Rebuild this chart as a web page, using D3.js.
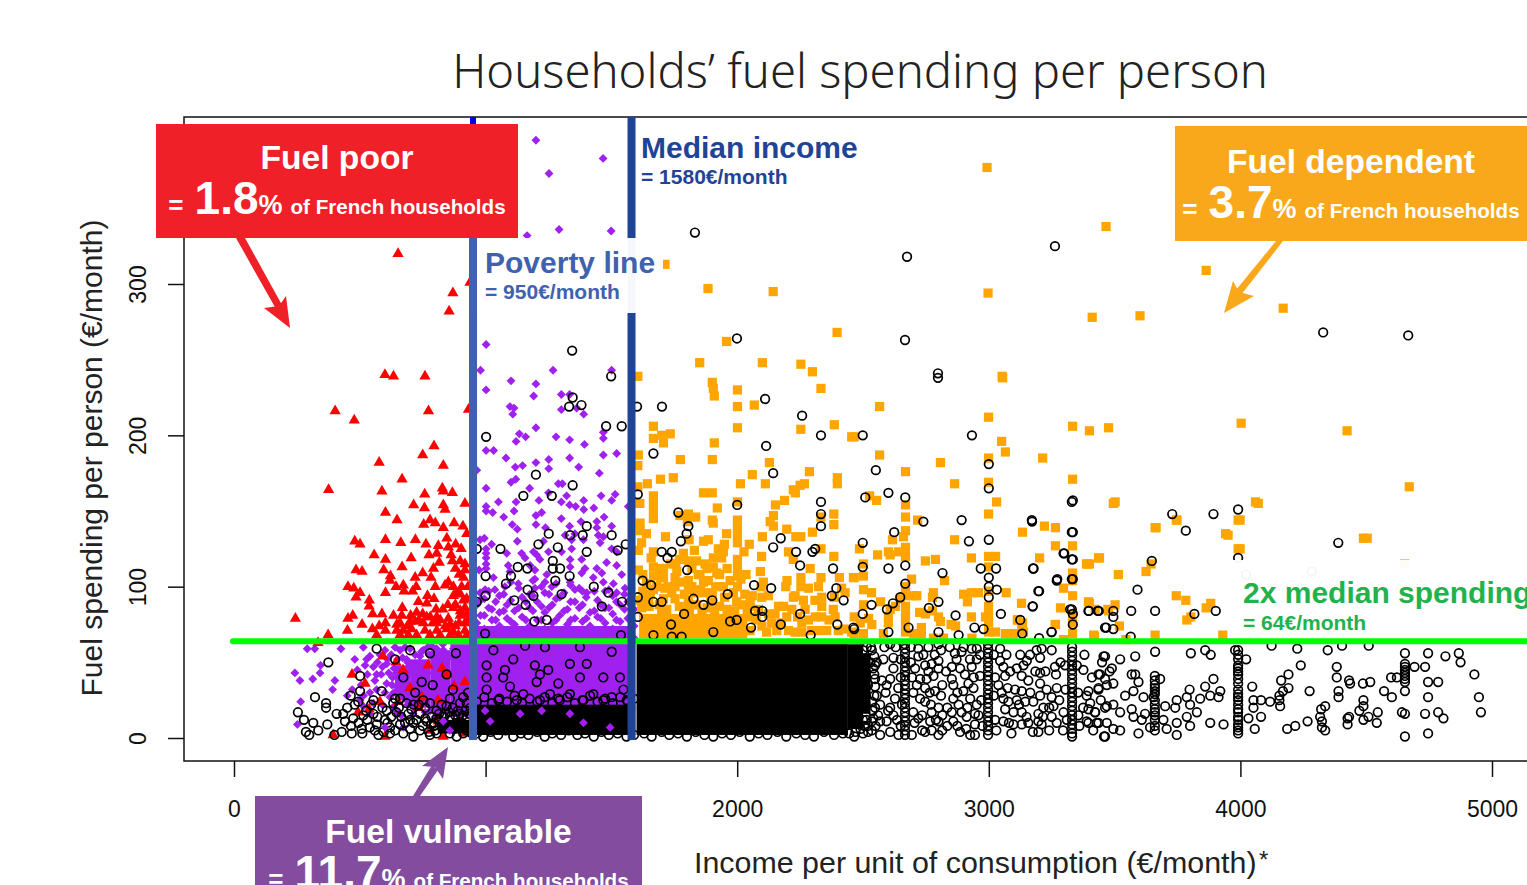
<!DOCTYPE html>
<html>
<head>
<meta charset="utf-8">
<script src="https://cdn.jsdelivr.net/npm/d3@7"></script>
<style>
    body { margin: 0; background: #fff; }
    svg { display: block; overflow: hidden; }
    text { font-family: "Liberation Sans", sans-serif; }
</style>
</head>
<body>
<div id="chart"></div>
<script>
// Axis ticks
const incomeTicks = [0, 1000, 2000, 3000, 4000, 5000];
const spendingTicks = [0, 100, 200, 300];

// Reference lines
const povertyLine = 950;
const medianIncome = 1580;
const twiceMedianSpending = 64;

// Fuel poor households [income, spending]
const poorPoints = [
    [652,320],[870,294],[855,282],[938,301],[600,240],[634,239],[759,239],[402,216],[478,210],[773,216],[932,217],[795,193],
    [750,187],[577,182],[832,180],[668,171],[376,164],[588,163],[828,165],[832,163],[868,162],[758,161],[714,154],[757,152],
    [832,154],[839,151],[918,155],[602,149],[648,144],[754,141],[779,144],[800,142],[832,139],[875,142],[910,140],[925,135],
    [846,132],[480,130],[501,128],[602,131],[663,129],[721,131],[763,128],[812,127],[852,126],[881,128],[903,125],[557,121],
    [602,118],[704,119],[775,121],[806,122],[863,121],[868,117],[816,116],[899,117],[918,115],[485,111],[509,110],[595,111],
    [668,113],[750,109],[793,112],[918,111],[622,107],[620,104],[720,106],[783,106],[912,106],[453,100],[476,99],[501,96],
    [485,93],[602,96],[644,100],[673,101],[676,97],[710,97],[724,100],[800,100],[839,101],[852,103],[872,100],[905,100],
    [872,94],[769,94],[795,92],[538,91],[733,90],[912,91],[537,87],[766,89],[669,86],[803,85],[872,86],[918,86],
    [551,82],[588,82],[472,81],[453,79],[244,79],[634,81],[667,81],[702,81],[726,83],[766,80],[806,80],[852,79],
    [899,81],[925,82],[509,75],[602,76],[577,74],[647,75],[700,77],[753,76],[806,76],[859,75],[918,76],[451,71],
    [550,72],[602,71],[647,71],[673,71],[706,72],[759,71],[806,71],[846,72],[872,70],[918,71],[374,68],[567,68],
    [660,68],[693,68],[726,68],[779,68],[819,68],[859,68],[892,68],[925,68],[880,112],[895,108],[930,100],[885,96],
    [900,95],[925,92],[850,88],[880,88],[900,84],[930,78],[840,74],[880,74],[895,76],[830,85],[820,78],[790,76],
    [780,80],[750,82],[735,78],[690,74],[720,77],[660,76],[592,54],[469,42],[521,36],[672,45],[771,48],[827,46],
    [847,42],[875,34],[918,37],[700,33],[580,24],[652,24],[537,19],[493,17],[735,20],[811,25],[811,11],[831,1],
    [918,3],[394,2],[600,1],[779,5],[747,27],[644,50],[334,63]
];

// Fuel vulnerable households [income, spending]
const vulnerablePoints = [
    [1200,395],[1467,383],[1252,373],[1292,336],[1499,335],[1165,332],[1002,291],[1002,260],[980,243],[1002,230],[1101,236],[1200,234],
    [1268,243],[1501,243],[1191,226],[1301,227],[1334,227],[1097,219],[1113,218],[1108,214],[1301,217],[1362,218],[1390,214],[1200,205],
    [1134,201],[1159,199],[1121,196],[1280,199],[1334,197],[1393,194],[1468,202],[1468,198],[1002,190],[1032,190],[1081,185],[1468,187],
    [1521,188],[1334,185],[1200,182],[1251,184],[1251,178],[1118,179],[1147,180],[1370,179],[965,177],[1452,175],[1101,169],[1120,171],
    [1289,168],[1305,168],[1002,165],[1175,165],[1250,162],[1322,160],[1459,160],[1515,161],[1051,156],[1121,156],[1212,157],[1301,156],
    [1390,157],[1501,157],[1002,153],[1002,150],[1028,149],[1113,150],[1334,154],[1358,153],[1390,151],[1430,152],[1567,153],[1072,146],
    [1200,147],[1223,149],[1301,145],[1471,146],[1106,141],[1200,141],[1238,139],[1334,140],[1379,143],[1442,143],[1501,140],[1126,138],
    [1442,139],[1448,134],[1468,133],[1316,134],[1355,135],[995,132],[978,131],[1126,130],[1024,128],[1230,130],[1342,131],[1389,131],
    [1455,129],[1002,125],[1002,122],[1002,119],[1002,115],[1002,112],[1084,122],[1143,122],[1190,123],[1203,121],[1250,123],[1302,123],
    [1342,125],[1501,125],[1521,123],[1157,119],[1216,118],[1336,118],[1382,118],[1481,116],[1177,114],[1090,114],[1336,113],[1395,112],
    [1442,112],[1521,114],[974,111],[1196,111],[1243,108],[1097,110],[1462,109],[1541,108],[1382,109],[1031,106],[1196,105],[1236,103],
    [1336,103],[1468,103],[1428,106],[1508,102],[1130,102],[1077,100],[1037,98],[978,96],[998,98],[1196,99],[1263,100],[1355,98],
    [1402,96],[1554,99],[1521,96],[1475,97],
    [291,59],[321,59],[425,59],[514,60],[242,43],[262,38],[313,39],[344,48],[342,43],[401,38],[392,32],[265,24],
    [252,9],[527,52],[521,48],[554,47],[540,54],[567,42],[607,49],[646,43],[686,52],[713,47],[739,54],[792,54],
    [832,58],[858,54],[911,56],[607,36],[567,32],[646,34],[686,34],[726,38],[766,36],[805,38],[845,36],[898,43],
    [911,32],[845,27],[779,29],[726,27],[686,25],[620,27],[554,23],[540,16],[646,18],[911,16],[779,18],[832,21],
    [713,16],[673,7],[746,23],[885,25],[514,21],[501,25],[766,47],[805,47],[885,52],[845,45],[911,49],[700,43],
    [752,43],[792,43],[660,58],[700,59],[752,58],[805,59],[872,59],
    [490,45],[505,35],[530,42],[560,38],[585,42],[600,30],[625,55],[580,55],[540,30],[515,28],[470,32],[450,28],
    [480,52],[600,58],[640,60],[680,60],[610,52],[650,52],[590,22],[630,20],[665,15],
    [635,30],[630,40],[628,35],[636,46],[690,50],[695,47],[670,53],[690,22],[720,55],[775,55],[770,60],[745,57],
    [720,20],[760,17],[800,14],[830,62],[785,61],[570,50],[590,47],[615,43]
];

// Purple columns above the green line [income, spendings]
const vulnerableColumns = [
    [965,[70,76,88]],[995,[67,72,81,92]],[1025,[69,78,85]],[1055,[66,74,83,94]],[1085,[70,79,88]],[1115,[67,75,84]],
    [1145,[71,80,93]],[1175,[66,74,86,95]],[1205,[69,78,90]],[1235,[72,83,96]],[1265,[67,76,88]],[1295,[70,81,93]],
    [1325,[66,75,85]],[1355,[71,79,90]],[1385,[68,77,88,97]],[1415,[66,74,83]],[1445,[70,80,91]],[1475,[67,76,86]],
    [1505,[72,82,94]],[1535,[68,77,88]],[1565,[70,79,90]],[1590,[66,74,85]],
    [980,[81,91]],[1012,[86,97]],[1040,[78,90]],[1072,[84,95]],[1100,[77,91,103]],[1132,[86,99]],[1160,[78,90]],
    [1188,[84,94,104]],[1222,[78,87,100]],[1252,[86,95]],[1280,[78,92,102]],[1312,[84,96]],[1338,[78,90,101]],[1372,[86,99]],
    [1400,[79,93]],[1432,[84,97]],[1458,[79,88]],[1490,[86,98]],[1520,[78,90]],[1552,[85,95]],[1580,[78,94]]
];

// Purple diamonds that sit on top of the black mass
const vulnerableOnTop = [
    [998,18],[1389,10],[1495,7],[1018,11],[1335,16],[1137,16],[1223,18],[600,7],[832,11],[858,5]
];

// Fuel dependent households [income, spending]
const dependentPoints = [
    [2993,377],[3466,338],[3864,309],[4170,284],[3411,278],[3601,279],[2997,294],[3053,239],[4003,208],[4424,203],[4671,166],[4071,155],
    [3502,156],[4504,132],[3999,144],[3951,134],[3665,139],[3748,144],[3999,125],[1713,313],[1884,297],[2143,295],
    [1958,262],[1851,248],[2100,248],[2253,247],[2299,242],[2397,268],[1605,239],[1901,235],[1905,231],[1909,226],[2001,230],[2333,231],
    [2001,219],[2068,220],[2386,207],[2253,204],[2455,199],[1667,206],[1667,198],[1707,195],[1700,200],[1734,201],[2001,205],[1909,195],
    [1607,187],[1774,184],[1901,184],[2128,182],[1605,180],[1746,172],[1695,171],[1643,168],[2060,174],[2287,176],[2112,168],[2013,168],
    [2398,172],[2398,168],[2267,168],[2250,167],[2223,164],[2231,162],[1605,166],[1866,162],[1901,162],[1667,160],[1667,155],[1667,150],
    [1667,145],[1613,155],[2188,157],[2152,154],[2001,156],[1921,152],[2144,147],[2144,140],[2131,143],[2384,148],[2333,146],[1772,147],
    [1806,148],[1835,146],[1802,143],[1901,144],[1905,142],[2001,144],[2001,139],[2001,134],[2001,129],[1614,142],[1614,137],[1639,135],
    [1715,133],[1958,135],[2100,133],[2197,138],[2233,133],[2253,133],[2299,136],[2384,141],[1809,131],[1866,130],[1885,131],[2048,128],
    [1620,129],[1949,128],[1925,125],[1945,123],[1830,124],[2027,123],[2204,123],[2333,125],[2097,120],[2223,118],[2384,120],[1786,122],
    [1667,123],[1607,124],[1658,119],[1905,119],[1938,119],[1806,117],[1839,117],[1872,115],[1756,115],[1667,113],[1707,112],[1607,111],
    [1905,113],[2001,118],[2001,112],[2001,107],[2001,100],[2290,112],[2092,110],[1919,109],[1852,108],[2462,106],[2406,106],[2104,103],
    [2198,104],[2253,106],[2333,106],[1667,107],[1707,106],[1753,106],[1806,104],[1866,103],[1972,104],[1945,100],[2095,100],[2193,100],
    [2253,100],[2323,100],[2283,99],[1667,98],[1713,99],[1753,100],[1806,98],[1866,96],[1901,96],[1832,96],[2415,99],[2230,94],
    [2060,94],[2124,94],[2336,93],[2386,93],[1614,91],[1647,91],[1707,92],[1753,92],[1806,90],[1998,90],[2051,90],[2263,91],
    [2309,91],[2429,96],[1620,86],[1690,88],[1720,85],[1770,87],[1790,84],[1840,88],[1880,86],[1930,87],[1960,85],[2020,88],
    [2051,80],[2051,87],[2098,74],[2137,76],[2184,87],[2197,80],[2223,93],[2257,76],[2283,78],[2336,80],[2336,87],[2389,80],
    [2382,85],[2323,71],[2204,71],[2157,71],[2257,70],[2402,71],[2455,70],[2164,87],[2124,82],[2098,93],[2051,71],[2117,70],
    [2230,70],[2296,71],[2356,71],[2217,85],[2270,85],[2075,78],[2085,85],[2150,82],[2175,76],[2240,80],[2310,80],[2365,78],[2425,72],
    [1625,97],[1640,102],[1655,95],[1680,100],[1695,106],[1725,100],[1740,96],[1760,110],[1780,103],[1790,95],[1820,100],[1845,108],
    [1855,98],[1885,104],[1895,90],[1915,100],[1930,108],[1950,93],[1985,96],[2015,105],[2030,95],[1625,108],[1690,112],[1735,115],
    [1770,118],[1820,112],[1880,112],[1960,112],[2035,108],[2040,85],[1650,87],[1700,85],[1810,85],[1860,83],[1910,84],[1990,84],
    [3055,238],[2566,219],[2999,212],[3333,206],[3400,203],[3476,205],[2465,199],[3051,196],[3066,189],[2566,187],[2999,185],[3214,185],
    [2808,182],[2669,176],[3333,171],[2864,168],[2999,169],[2526,160],[2554,157],[3031,156],[2669,154],[2669,146],[2999,148],[2717,144],
    [3221,140],[3265,139],[3134,136],[2669,137],[2661,133],[2864,131],[2617,131],[2486,125],[3265,127],[3333,127],[2601,123],[2608,121],
    [2641,123],[2669,126],[2669,120],[2558,121],[2999,120],[3027,120],[2931,119],[2748,117],[2788,118],[3202,119],[3440,119],[3388,115],
    [3400,115],[2502,115],[2999,113],[3333,109],[3333,104],[2465,106],[2502,107],[2693,105],[2824,104],[3297,99],[2502,98],[2534,96],
    [2669,100],[2669,94],[2701,94],[2714,94],[2648,92],[2780,96],[2776,93],[2900,95],[2931,96],[2959,96],[2915,90],[3069,96],
    [2999,97],[3333,94],[2502,88],[2570,90],[2629,87],[2608,85],[3130,89],[3285,86],[3400,89],[2669,87],[2999,87],[2725,83],
    [2748,82],[2776,84],[2800,80],[2808,77],[2931,80],[2987,80],[2999,81],[3114,78],[3134,76],[3134,71],[3265,75],[3333,82],
    [3333,76],[3423,85],[3476,84],[2465,80],[2522,79],[2489,76],[2535,75],[2601,80],[2601,76],[2669,81],[2669,76],[2850,75],
    [2868,74],[2999,76],[2732,73],[2581,69],[2465,69],[2502,69],[2669,70],[2701,69],[2732,69],[2999,70],[3027,70],[3066,69],
    [3098,69],[3333,69],[3420,67],[2780,66],[2820,66],[2933,66],[3297,65],
    [3495,155],[3661,139],[3745,144],[3991,144],[4060,156],[3941,135],[3991,125],[4489,132],[4653,115],[3745,94],[3783,91],[3882,89],
    [3864,86],[3803,80],[3787,78],[3661,68],[3930,68],[3519,74],[3545,65],[3417,68],[3502,88],[3473,85],[3396,90],[3436,119],
    [3515,108],[3392,115],[3625,110],[3645,115],[3264,75],[3131,75],[3114,78],[3138,70],[3098,69]
];

// Other households, read one by one [income, spending]
const otherPoints = [
    [1832,334],[2675,318],[3263,325],[4329,268],[4667,266],[2667,263],[1999,264],[1344,256],[1499,239],[2798,241],[2798,238],[2111,224],
    [2258,213],[1701,219],[1602,219],[1002,199],[1346,225],[1332,219],[1381,220],[1479,206],[1541,206],[1200,174],[1346,167],[1150,160],
    [1263,160],[1402,140],[1251,135],[1336,134],[1386,134],[1501,134],[1210,128],[1287,126],[1059,125],[1402,123],[1525,124],[1557,128],
    [965,125],[1267,117],[1296,112],[1128,113],[1166,112],[1267,112],[1101,107],[1277,104],[1334,107],[1000,107],[1081,102],[1430,100],
    [1167,98],[1190,94],[1488,96],[1000,94],[1159,88],[1462,87],[1542,90],[1114,91],[1302,95],[1194,77],[1243,78],[998,69],
    [1538,68],[965,90],[2333,200],[2115,193],[1667,188],[2143,175],[1605,161],[2333,156],[2000,154],[1766,149],[2333,148],[1806,140],
    [2333,140],[1799,135],[1776,130],[2173,132],[2143,126],[1700,123],[1740,123],[1723,119],[2234,123],[2299,123],[2310,125],[2250,114],
    [2381,112],[1801,111],[1624,104],[1658,101],[2067,101],[2135,99],[2394,99],[1962,95],[1826,92],[1901,91],[1667,90],[1700,90],
    [1605,93],[2376,94],[2423,91],[2071,84],[2100,84],[1866,88],[2250,82],[2100,80],[1789,82],[1605,80],[1998,78],[1972,77],
    [1737,75],[1905,70],[1667,68],[1740,67],[1779,67],[2055,73],[2173,75],[2292,68],[2398,75],[2462,73],
    [2499,200],[2933,200],[2551,177],[3000,181],[3000,165],[2601,162],[2509,159],[2668,159],[3334,157],[2740,143],[2892,144],[3172,143],
    [2624,136],[3334,136],[2499,129],[2921,130],[3000,131],[3300,122],[3334,118],[2668,114],[2601,112],[2499,113],[2816,109],[2968,112],
    [3029,112],[3178,112],[3000,106],[3272,105],[3334,105],[2668,102],[3000,100],[3032,98],[3200,97],[3000,93],[2648,93],[2619,89],
    [2800,90],[2534,88],[2762,86],[2595,85],[3175,87],[3323,85],[3398,84],[3437,84],[3334,82],[2499,82],[2868,81],[3048,82],
    [3125,78],[3334,75],[2681,73],[2943,73],[2979,72],[3467,73],[3249,70],[2800,70],[2601,70],[2465,72],[2880,68],[3200,66],[3133,69],
    [3330,156],[3171,144],[3729,148],[3893,148],[3991,151],[3330,136],[3783,137],[4389,129],[3297,122],[3330,118],[3176,112],[3648,117],
    [3991,119],[3270,104],[3330,105],[4022,108],[4284,110],[3197,97],[3591,98],[3174,87],[3330,85],[3396,84],[3433,84],[3495,84],
    [3566,84],[3661,84],[3902,84],[3817,82],[3495,80],[3462,73],[3495,72],[3250,70],[3564,67],
    // under the green line, right side
    [4124,61],[4226,59],[4404,61],[4510,61],[4347,58],[4654,56],[4746,56],[4815,54],[4868,56],[4875,50],[4240,48],[4383,47],
    [4692,47],[4734,47],[4930,42],[4383,40],[4191,42],[4162,38],[4432,38],[4436,36],[4487,36],[4516,37],[4599,40],[4622,40],
    [4746,37],[4786,37],[4191,33],[4047,34],[4169,31],[4155,28],[4155,25],[4158,21],[4275,31],[4390,31],[4390,27],[4571,31],
    [4602,27],[4654,31],[4746,27],[4948,27],[4956,17],[4786,17],[4807,13],[4734,16],[4642,17],[4654,16],[4546,17],[4542,10],
    [4509,14],[4489,21],[4489,25],[4473,18],[4489,12],[4432,14],[4426,9],[4426,13],[4337,21],[4321,19],[4317,14],[4324,11],
    [4324,7],[4337,5],[4267,11],[4218,8],[4186,6],[4118,24],[4082,25],[4052,25],[4082,14],[4032,13],[4057,6],[4654,1],
    [4746,3],[4052,20],
    [3456,54],[3582,54],[3661,57],[3803,56],[3860,58],[3882,55],[3979,58],[4023,52],[3522,52],[3489,46],[3436,42],[3568,42],
    [3582,42],[3495,36],[3436,32],[3595,37],[3681,39],[3893,39],[3860,34],[3798,32],[3575,31],[3542,28],[3615,27],[3655,27],
    [3747,25],[3787,27],[3840,26],[3880,28],[3920,31],[3913,27],[3741,20],[3800,22],[3827,17],[3787,14],[3701,21],[3568,19],
    [3495,22],[3462,20],[3423,17],[3522,17],[3621,16],[3575,14],[3608,12],[3641,7],[3694,12],[3747,10],[3800,8],[3880,10],
    [3933,9],[3707,6],[3595,3],[3458,1],[3522,5],[3747,2],[3429,10],[3495,6],[3396,10],
    // under the green line, middle
    [2535,58],[2541,46],[2548,39],[2555,28],[2535,24],[2568,22],[2541,13],[2568,11],[2568,2],[2608,62],[2581,52],[2621,53],
    [2621,46],[2608,39],[2594,35],[2627,26],[2608,20],[2621,15],[2594,11],[2608,4],[2641,2],[2720,59],[2720,54],[2707,46],
    [2747,48],[2773,49],[2727,39],[2753,39],[2780,41],[2714,35],[2747,33],[2786,31],[2727,26],[2700,17],[2747,24],[2800,51],
    [2800,46],[2800,62],[2800,20],[2773,17],[2767,11],[2800,11],[2800,2],[2773,5],[2747,4],[2720,13],[2694,2],[2872,52],
    [2853,47],[2892,57],[2932,59],[2952,59],[2952,52],[2932,47],[2886,46],[2965,41],[2853,39],[2859,35],[2919,36],[2939,33],
    [2899,31],[2859,26],[2926,26],[2952,22],[2853,17],[2892,17],[2959,15],[2859,11],[2912,14],[2886,4],[2926,2],[2945,9],
    [2945,2],[3045,59],[3045,51],[3058,47],[3065,41],[3038,35],[3051,30],[3058,26],[3111,46],[3138,48],[3164,55],[3151,51],
    [3131,41],[3157,38],[3104,32],[3131,31],[3111,25],[3078,24],[3065,19],[3098,17],[3058,11],[3098,9],[3131,17],[3131,9],
    [3157,10],[3177,24],[3204,43],[3204,36],[3210,59],[3204,53],[3250,58],[3263,47],[3267,42],[3270,33],[3230,32],[3250,27],
    [3204,28],[3197,16],[3197,11],[3197,4],[3210,9],[3257,21],[3217,20],[3250,14],[3270,10],[3297,17],[3376,45],[3396,31],
    [3389,28],[3403,23],[3396,19],[3422,17],[3389,11],[3436,10],[3462,54],[3442,42],[3462,39],[3436,33],[3469,35],[3469,21],
    [3469,10],[3462,1],[3303,48],[3356,15],
    [2500,58],[2510,45],[2520,35],[2510,22],[2500,12],[2520,8],[2530,50],
    [2545,54],[2548,48],[2545,42],[2548,34],[2545,28],[2548,20],[2505,8],[2515,12],[2535,11],[2445,3],[2470,4],[2490,6],
    [2520,4],[2535,5],[2550,8],[2532,60],[2515,60],[2538,18],
    [2555,50],[2560,15],[2575,38],[2585,60],[2590,30],[2600,18],[2630,60],[2640,33],[2650,52],[2650,40],[2655,22],[2650,8],
    [2635,12],[2690,60],[2695,40],[2700,30],[2690,50],[2705,10],[2735,15],[2740,55],[2735,5],[2760,60],[2760,44],[2765,30],
    [2770,22],[2785,55],[2790,12],[2810,58],[2815,35],[2810,28],[2815,15],[2815,5],[2830,44],[2835,20],[2835,8],[2845,60],
    [2865,56],[2875,30],[2875,8],[2880,22],[2900,60],[2905,42],[2910,6],[2915,20],[2925,52],[2940,40],[2945,16],[2965,55],
    [2970,25],[2975,8],[3020,55],[3025,40],[3020,28],[3025,12],[3030,5],[3070,55],[3075,33],[3080,10],[3085,44],[3090,3],
    [3120,22],[3125,55],[3145,24],[3150,14],[3165,30],[3175,4],[3185,44],[3190,58],[3215,14],[3225,44],[3240,20],[3240,5],
    [3280,25],[3285,50],[3295,5],[3305,32],[3310,12],[3350,48],[3355,30],[3360,8],[3375,20],[3380,55],[3410,40],[3415,5],
    [3445,25],[3450,50],[3480,44],
    // under the green line, left side
    [375,50],[322,27],[366,23],[366,20],[254,17],[278,12],[315,10],[371,9],[335,5],[286,4],[299,2],[408,16],
    [434,16],[428,4],[468,3],[399,2],[464,28],[501,31],[494,24],[567,59],[700,58],[779,56],[882,56],[501,41],
    [640,52],[673,40],[746,37],[845,42],[441,11],[474,13],[514,15],[554,25],[587,31],[660,26],[713,22],[779,23],
    [858,26],[911,27],[540,7],[574,2],[620,3],[673,3],[713,1],[779,2],[885,1],[911,3],[507,6],[600,12],
    [646,17],[693,16],[739,16],[805,18],[858,14],[898,16],[660,9],[713,10],[766,11],[832,7],[885,10],[925,14],
    [554,16],[607,18],[620,7],[739,5],[805,3],[858,3],[925,5],[567,9],[845,21],[898,23],[925,23],[752,25],
    [686,23],[633,23],
    [450,20],[465,8],[480,22],[495,10],[510,3],[525,18],[530,12],[545,22],[560,5],[570,14],[590,20],[595,4],
    [610,10],[625,14],[640,5],[655,20],[665,14],[680,10],[700,6],[705,19],[725,12],[735,22],[750,8],[760,20],
    [785,14],[795,8],[815,12],[825,22],[840,16],[850,8],[870,20],[875,6],[890,18],[905,10],[920,18],[935,8],
    [940,20],[945,3],[700,12],[640,26],[720,30],[790,35],[870,32],[930,30],[960,15],
    [800,5],[795,10],[805,13],[775,4],[785,9],[760,13],[815,16],[835,14],[855,17],[880,15],[910,15],[935,16],
    // over the purple mass
    [1031,58],[1157,61],[1236,60],[1375,60],[1501,57],[1004,48],[1110,52],[1196,48],[1335,49],[1402,49],[1004,40],[1077,45],
    [1216,42],[1249,45],[1289,36],[1468,40],[1534,40],[1004,32],[1150,29],[1216,25],[1335,29],[1428,29],[1548,32],[1051,25],
    [1289,26],[1389,25],[1501,27],[1561,25],[1097,34],[1203,37],[1375,40],[1070,40],[1256,29],[1468,25],[1124,25],
    // top edge of the black mass under the purple
    [965,24],[995,27],[1025,23],[1055,26],[1085,24],[1115,28],[1145,23],[1175,26],[1205,24],[1235,27],[1265,23],[1295,25],
    [1325,27],[1355,23],[1385,25],[1415,28],[1445,24],[1475,26],[1505,23],[1535,27],[1565,24],[1590,26],
    // bottom edge
    [965,3],[990,1],[1020,4],[1050,2],[1080,5],[1110,1],[1140,3],[1170,2],[1205,4],[1235,1],[1265,3],[1300,2],
    [1330,5],[1365,2],[1395,3],[1430,1],[1460,4],[1490,2],[1525,3],[1560,1],[1590,2],[1630,3],[1660,1],[1700,4],
    [1730,2],[1765,3],[1800,1],[1835,4],[1870,2],[1905,1],[1940,3],[1975,2],[2010,4],[2050,1],[2085,3],[2120,2],
    [2160,4],[2195,1],[2235,3],[2270,2],[2305,1],[2345,4],[2385,2],[2420,3],[2465,1],[2500,3]
];

// Vertical stacks of black circles at round incomes [income, spendings]
const otherColumns = [
    [2667,[62,59,56,53,50,47,44,41,38,35,32,29,26,23,20,17,14,11,8,5,2]],
    [2997,[62,59,56,53,50,47,44,41,38,35,32,29,26,23,20,17,14,11,8,5,2]],
    [3331,[60,57,54,51,48,45,42,39,36,33,30,27,24,21,18,15,12,9,6,3,1]],
    [3660,[41,38,35,33,31,29,25,22,19,17,15,12,8,5]],
    [3991,[58,55,52,48,46,44,42,39,36,32,29,27,25,22,19,17,14,12,9,7,5,3]],
    [4654,[49,47,45,43,41,39,37]]
];

// Areas where households overlap so much they print as one solid colour:
// [income from, income to, spending from, spending to]
const vulnerableMass = [[955,1595,18,63],[955,1595,63,74],[640,700,25,48],[700,780,20,52],[780,860,16,58],[860,955,14,62]];
const dependentMass = [[1610,2040,66,82]];
const otherMass = [[955,1595,2,22],[810,955,3,12],[1600,2440,2,63],[2440,2500,6,62],[2500,2530,16,56]];

const width = 1527, height = 885;

const xScale = d3.scaleLinear().domain([0, 5000]).range([234, 1492]);
const yScale = d3.scaleLinear().domain([0, 300]).range([738, 284]);

const svg = d3.select("#chart").append("svg")
    .attr("width", width)
    .attr("height", height);

const expand = cols => cols.flatMap(([x, ys]) => ys.map(y => [x, y]));

function drawMass(blocks, color) {
    svg.append("g").selectAll("rect").data(blocks).join("rect")
        .attr("x", d => xScale(d[0]))
        .attr("width", d => xScale(d[1]) - xScale(d[0]))
        .attr("y", d => yScale(d[3]))
        .attr("height", d => yScale(d[2]) - yScale(d[3]))
        .attr("fill", color);
}

function drawSymbols(points, type, size, color) {
    const sym = d3.symbol().type(type).size(size)();
    svg.append("g").selectAll("path").data(points).join("path")
        .attr("d", sym)
        .attr("transform", d => `translate(${xScale(d[0])},${yScale(d[1])})`)
        .attr("fill", color);
}

// Frame
svg.append("rect")
    .attr("x", 184).attr("y", 117)
    .attr("width", 1500).attr("height", 644)
    .attr("fill", "none").attr("stroke", "#111").attr("stroke-width", 1.5);

// Axes (the 1000 label is hidden behind the purple box in the original)
const xAxis = d3.axisBottom(xScale).tickValues(incomeTicks).tickSize(16).tickPadding(24)
    .tickFormat(d => (d === 1000 ? "" : d));
const yAxis = d3.axisLeft(yScale).tickValues(spendingTicks).tickSize(16).tickFormat(d3.format("d"));

const gx = svg.append("g").attr("transform", "translate(0,761)").call(xAxis);
const gy = svg.append("g").attr("transform", "translate(184,0)").call(yAxis);
gx.select(".domain").remove();
gy.select(".domain").remove();
gx.selectAll("line").attr("stroke", "#111").attr("stroke-width", 1.5);
gy.selectAll("line").attr("stroke", "#111").attr("stroke-width", 1.5);
gx.selectAll("text").style("font-size", "23px").style("font-family", "Liberation Sans").attr("fill", "#111");
gy.selectAll("text")
    .style("font-size", "23px").style("font-family", "Liberation Sans").attr("fill", "#111")
    .attr("text-anchor", "middle")
    .attr("x", 0).attr("dy", 0)
    .attr("transform", "translate(-38,0) rotate(-90)");

// Points
drawMass(vulnerableMass, "#a020f0");
drawMass(dependentMass, "#ffa500");
drawSymbols(vulnerablePoints.concat(expand(vulnerableColumns)), d3.symbolDiamond2, 50, "#a020f0");
drawSymbols(poorPoints, d3.symbolTriangle, 55, "#ff0000");
drawSymbols(dependentPoints, d3.symbolSquare, 85, "#ffa500");
drawMass(otherMass, "#000");
svg.append("g").selectAll("circle").data(otherPoints.concat(expand(otherColumns))).join("circle")
    .attr("cx", d => xScale(d[0]))
    .attr("cy", d => yScale(d[1]))
    .attr("r", 4.3)
    .attr("fill", "none")
    .attr("stroke", "#000")
    .attr("stroke-width", 1.7);
drawSymbols(vulnerableOnTop, d3.symbolDiamond2, 50, "#a020f0");

// White boxes behind the labels
svg.append("rect").attr("x", 637).attr("y", 124).attr("width", 226).attr("height", 76).attr("fill", "#fff").attr("opacity", 0.96);
svg.append("rect").attr("x", 1230).attr("y", 560).attr("width", 297).attr("height", 78).attr("fill", "#fff").attr("opacity", 0.96);

// Reference lines
svg.append("line")
    .attr("x1", xScale(0) - 1).attr("x2", 1527)
    .attr("y1", yScale(twiceMedianSpending)).attr("y2", yScale(twiceMedianSpending))
    .attr("stroke", "#00ff00").attr("stroke-width", 6).attr("stroke-linecap", "round");
svg.append("line")
    .attr("x1", xScale(povertyLine)).attr("x2", xScale(povertyLine))
    .attr("y1", 117).attr("y2", 240)
    .attr("stroke", "#0000ff").attr("stroke-width", 6);
svg.append("line")
    .attr("x1", xScale(povertyLine)).attr("x2", xScale(povertyLine))
    .attr("y1", 238).attr("y2", 740)
    .attr("stroke", "#4062ae").attr("stroke-width", 8);
svg.append("line")
    .attr("x1", xScale(medianIncome)).attr("x2", xScale(medianIncome))
    .attr("y1", 117).attr("y2", 740)
    .attr("stroke", "#1f4496").attr("stroke-width", 8);
svg.append("rect").attr("x", 477).attr("y", 238).attr("width", 186).attr("height", 75).attr("fill", "#fff").attr("opacity", 0.96);

// Titles
svg.append("text")
    .attr("x", 860).attr("y", 88)
    .attr("text-anchor", "middle")
    .style("font-family", "Noto Sans")
    .style("font-size", "47.2px")
    .style("font-weight", 300)
    .attr("fill", "#222")
    .text("Households\u2019 fuel spending per person");

svg.append("text")
    .attr("transform", "translate(102,458) rotate(-90)")
    .attr("text-anchor", "middle")
    .style("font-size", "30px")
    .attr("fill", "#222")
    .text("Fuel spending per person (\u20ac/month)");

svg.append("text")
    .attr("x", 694).attr("y", 873)
    .style("font-size", "30.4px")
    .attr("fill", "#222")
    .text("Income per unit of consumption (\u20ac/month)");
svg.append("text")
    .attr("x", 1259).attr("y", 868)
    .style("font-size", "24px")
    .attr("fill", "#222")
    .text("*");

// Labels for the lines
function lineLabel(x, y, y2, color, big, small) {
    svg.append("text").attr("x", x).attr("y", y)
        .style("font-size", "30px").style("font-weight", "bold").attr("fill", color).text(big);
    svg.append("text").attr("x", x).attr("y", y2)
        .style("font-size", "21px").style("font-weight", "bold").attr("fill", color).text(small);
}
lineLabel(641, 158, 184, "#1f4496", "Median income", "= 1580\u20ac/month");
lineLabel(485, 273, 299, "#4062ae", "Poverty line", "= 950\u20ac/month");
lineLabel(1243, 603, 630, "#22b24c", "2x median spending", "= 64\u20ac/month");

// Coloured callouts
function callout(box, color, name, share, arrow) {
    svg.append("polygon").attr("points", arrow.shaft).attr("fill", color);
    svg.append("polygon").attr("points", arrow.head).attr("fill", color);
    svg.append("rect")
        .attr("x", box.x).attr("y", box.y)
        .attr("width", box.w).attr("height", box.h)
        .attr("fill", color);
    const cx = box.x + box.w / 2;
    svg.append("text")
        .attr("x", cx).attr("y", box.y + box.dy)
        .attr("text-anchor", "middle")
        .style("font-size", "33.6px").style("font-weight", "bold")
        .attr("fill", "#fff").text(name);
    const line2 = svg.append("text")
        .attr("x", cx).attr("y", box.y + box.dy + 45)
        .attr("text-anchor", "middle")
        .style("font-weight", "bold")
        .attr("fill", "#fff");
    line2.append("tspan").style("font-size", "26px").text("=");
    line2.append("tspan").attr("dx", 11).style("font-size", "46px").text(share);
    line2.append("tspan").style("font-size", "27px").text("%");
    line2.append("tspan").attr("dx", 8).style("font-size", "20.6px").text("of French households");
}

callout({ x: 156, y: 124, w: 362, h: 114, dy: 45 }, "#ef2027", "Fuel poor", "1.8", {
    shaft: "236,238 245,238 282,305 276,309",
    head: "290,328 264,308 279,306 286,296"
});
callout({ x: 1175, y: 126, w: 352, h: 115, dy: 47 }, "#f9a81c", "Fuel dependent", "3.7", {
    shaft: "1276,241 1283,241 1241,295 1236,290",
    head: "1224,313 1233,281 1239,292 1254,296"
});
callout({ x: 255, y: 796, w: 387, h: 100, dy: 47 }, "#834c9e", "Fuel vulnerable", "11.7", {
    shaft: "413,796 420,796 438,770 432,765",
    head: "448,747 422,766 435,767 443,779"
});
</script>
</body>
</html>
